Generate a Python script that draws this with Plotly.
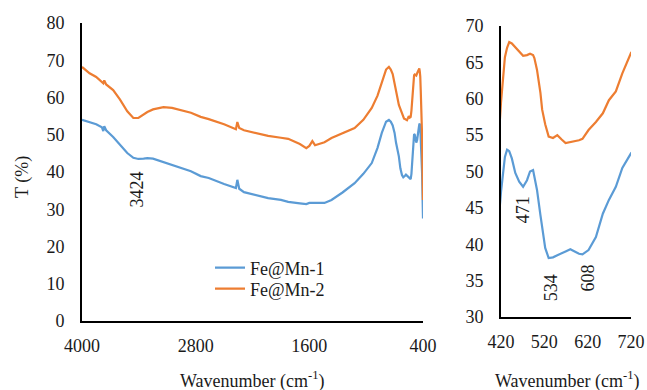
import plotly.graph_objects as go

# Wavenumber (cm-1), descending
wavenumber = [4000, 3920, 3850, 3790, 3775, 3765, 3745, 3671, 3600, 3522, 3458, 3405, 3350,
              3310, 3250, 3140, 3050, 2959, 2850, 2747, 2662, 2500, 2375, 2360, 2340, 2290,
              2150, 2035, 1900, 1823, 1700, 1632, 1600, 1568, 1540, 1500, 1440, 1366, 1250,
              1122, 1030, 941, 880, 835, 790, 760, 740, 720, 700, 685, 669, 655, 639, 622,
              608, 600, 590, 580, 569, 560, 550, 540, 530, 522, 515, 511, 503, 497, 494, 487,
              480, 471, 462, 453, 445, 439, 434, 429, 424, 420, 410, 400]

fe_mn_2 = [68.2, 66.5, 65.5, 64.3, 63.8, 64.6, 63.5, 62.0, 59.5, 56.3, 54.5, 54.5, 55.5,
           56.1, 56.8, 57.4, 57.2, 56.6, 55.9, 54.8, 54.2, 52.8, 51.5, 53.4, 51.8, 51.2,
           50.4, 49.7, 49.2, 48.9, 47.5, 46.4, 47.0, 48.3, 47.2, 47.6, 48.0, 49.1, 50.3,
           51.8, 54.0, 57.2, 60.5, 63.9, 67.5, 68.2, 67.5, 66.3, 63.5, 61.0, 59.8, 58.0, 56.8, 55.7,
           54.5, 54.3, 54.2, 54.1, 53.9, 54.4, 55.0, 54.6, 54.8, 56.5, 58.5, 60.8, 64.0, 65.6, 66.0, 66.2,
           66.0, 65.9, 66.5, 67.1, 67.6, 67.8, 67.0, 65.7, 62.0, 59.5, 50.0, 32.5]

fe_mn_1 = [54.0, 53.3, 52.8, 52.0, 51.0, 52.3, 51.2, 49.4, 47.3, 45.1, 43.8, 43.5, 43.6,
           43.7, 43.6, 42.7, 42.0, 41.1, 40.2, 38.9, 38.4, 36.8, 35.7, 37.9, 35.5, 34.6,
           33.8, 33.0, 32.5, 32.0, 31.6, 31.4, 31.7, 31.8, 31.7, 31.7, 31.7, 32.5, 34.5,
           37.0, 39.5, 42.4, 46.5, 50.5, 53.5, 54.0, 53.5, 52.5, 50.5, 47.9, 46.1, 44.2, 41.0, 39.2,
           38.6, 38.7, 39.0, 39.3, 39.0, 38.8, 38.5, 38.2, 38.1, 39.5, 42.0, 44.0, 47.5, 49.3, 50.2, 50.0,
           48.8, 47.9, 48.6, 49.8, 51.8, 52.8, 53.0, 52.0, 49.5, 47.2, 40.0, 27.5]

left_xticks = [4000, 2800, 1600, 400]
left_yticks = [0, 10, 20, 30, 40, 50, 60, 70, 80]
right_xticks = [420, 520, 620, 720]
right_yticks = [30, 35, 40, 45, 50, 55, 60, 65, 70]

peak_labels = ["3424", "471", "534", "608"]

BLUE = "#5B9BD5"
ORANGE = "#ED7D31"
FONT = "Times New Roman, Liberation Serif, serif"
TXT = "#1a1a1a"
W, H = 647, 390

fig = go.Figure()
fig.add_trace(go.Scatter(x=wavenumber, y=fe_mn_1, mode="lines", name="Fe@Mn-1", legend="legend",
                         line=dict(color=BLUE, width=2.2), xaxis="x", yaxis="y"))
fig.add_trace(go.Scatter(x=wavenumber, y=fe_mn_2, mode="lines", name="Fe@Mn-2", legend="legend2",
                         line=dict(color=ORANGE, width=2.2), xaxis="x", yaxis="y"))
fig.add_trace(go.Scatter(x=wavenumber, y=fe_mn_1, mode="lines", showlegend=False,
                         line=dict(color=BLUE, width=2.2), xaxis="x2", yaxis="y2"))
fig.add_trace(go.Scatter(x=wavenumber, y=fe_mn_2, mode="lines", showlegend=False,
                         line=dict(color=ORANGE, width=2.2), xaxis="x2", yaxis="y2"))

axis_common = dict(showline=True, linecolor="black", linewidth=2, showgrid=False,
                   zeroline=False, ticks="", automargin=False,
                   tickfont=dict(family=FONT, size=18, color=TXT))

leg_common = dict(xanchor="left", yanchor="middle", bgcolor="rgba(0,0,0,0)",
                  font=dict(family=FONT, size=18, color=TXT), borderwidth=0)

fig.update_layout(
    width=W, height=H,
    margin=dict(l=0, r=0, t=0, b=0, pad=0),
    font=dict(family=FONT, size=18, color=TXT),
    paper_bgcolor="white", plot_bgcolor="white",
    showlegend=True,
    legend=dict(leg_common, x=210 / W, y=(H - 268) / H),
    legend2=dict(leg_common, x=210 / W, y=(H - 289) / H),
    xaxis=dict(axis_common, domain=[82 / W, 423 / W], range=[4000, 400],
               tickvals=left_xticks, ticktext=[str(v) for v in left_xticks],
               ticklabelstandoff=7, anchor="y"),
    yaxis=dict(axis_common, domain=[(H - 321) / H, (H - 23) / H], range=[0, 80],
               tickvals=left_yticks, ticklabelstandoff=12, anchor="x"),
    xaxis2=dict(axis_common, domain=[501 / W, 631 / W], range=[420, 720],
                tickvals=right_xticks, ticklabelstandoff=7, anchor="y2"),
    yaxis2=dict(axis_common, domain=[(H - 317) / H, (H - 26) / H], range=[30, 70],
                tickvals=right_yticks, ticklabelstandoff=12, anchor="x2"),
)

ann_font = dict(family=FONT, size=18, color=TXT)
ann_common = dict(showarrow=False, font=ann_font, xanchor="center", yanchor="middle")
# peak labels (rotated)
fig.add_annotation(ann_common, x=3424, y=35.2, xref="x", yref="y", text=peak_labels[0], textangle=-90)
fig.add_annotation(ann_common, x=471, y=44.7, xref="x2", yref="y2", text=peak_labels[1], textangle=-90)
fig.add_annotation(ann_common, x=534, y=34.0, xref="x2", yref="y2", text=peak_labels[2], textangle=-90)
fig.add_annotation(ann_common, x=620, y=35.4, xref="x2", yref="y2", text=peak_labels[3], textangle=-90)

# axis titles
fig.add_annotation(ann_common, x=22 / W, y=(H - 177) / H, xref="paper", yref="paper", text="T (%)",
                   textangle=-90)
fig.add_annotation(ann_common, x=252 / W, y=(H - 380) / H, xref="paper", yref="paper",
                   text="Wavenumber (cm<sup>-1</sup>)")
fig.add_annotation(ann_common, x=567 / W, y=(H - 380) / H, xref="paper", yref="paper",
                   text="Wavenumber (cm<sup>-1</sup>)")

fig.write_html("out.html")
